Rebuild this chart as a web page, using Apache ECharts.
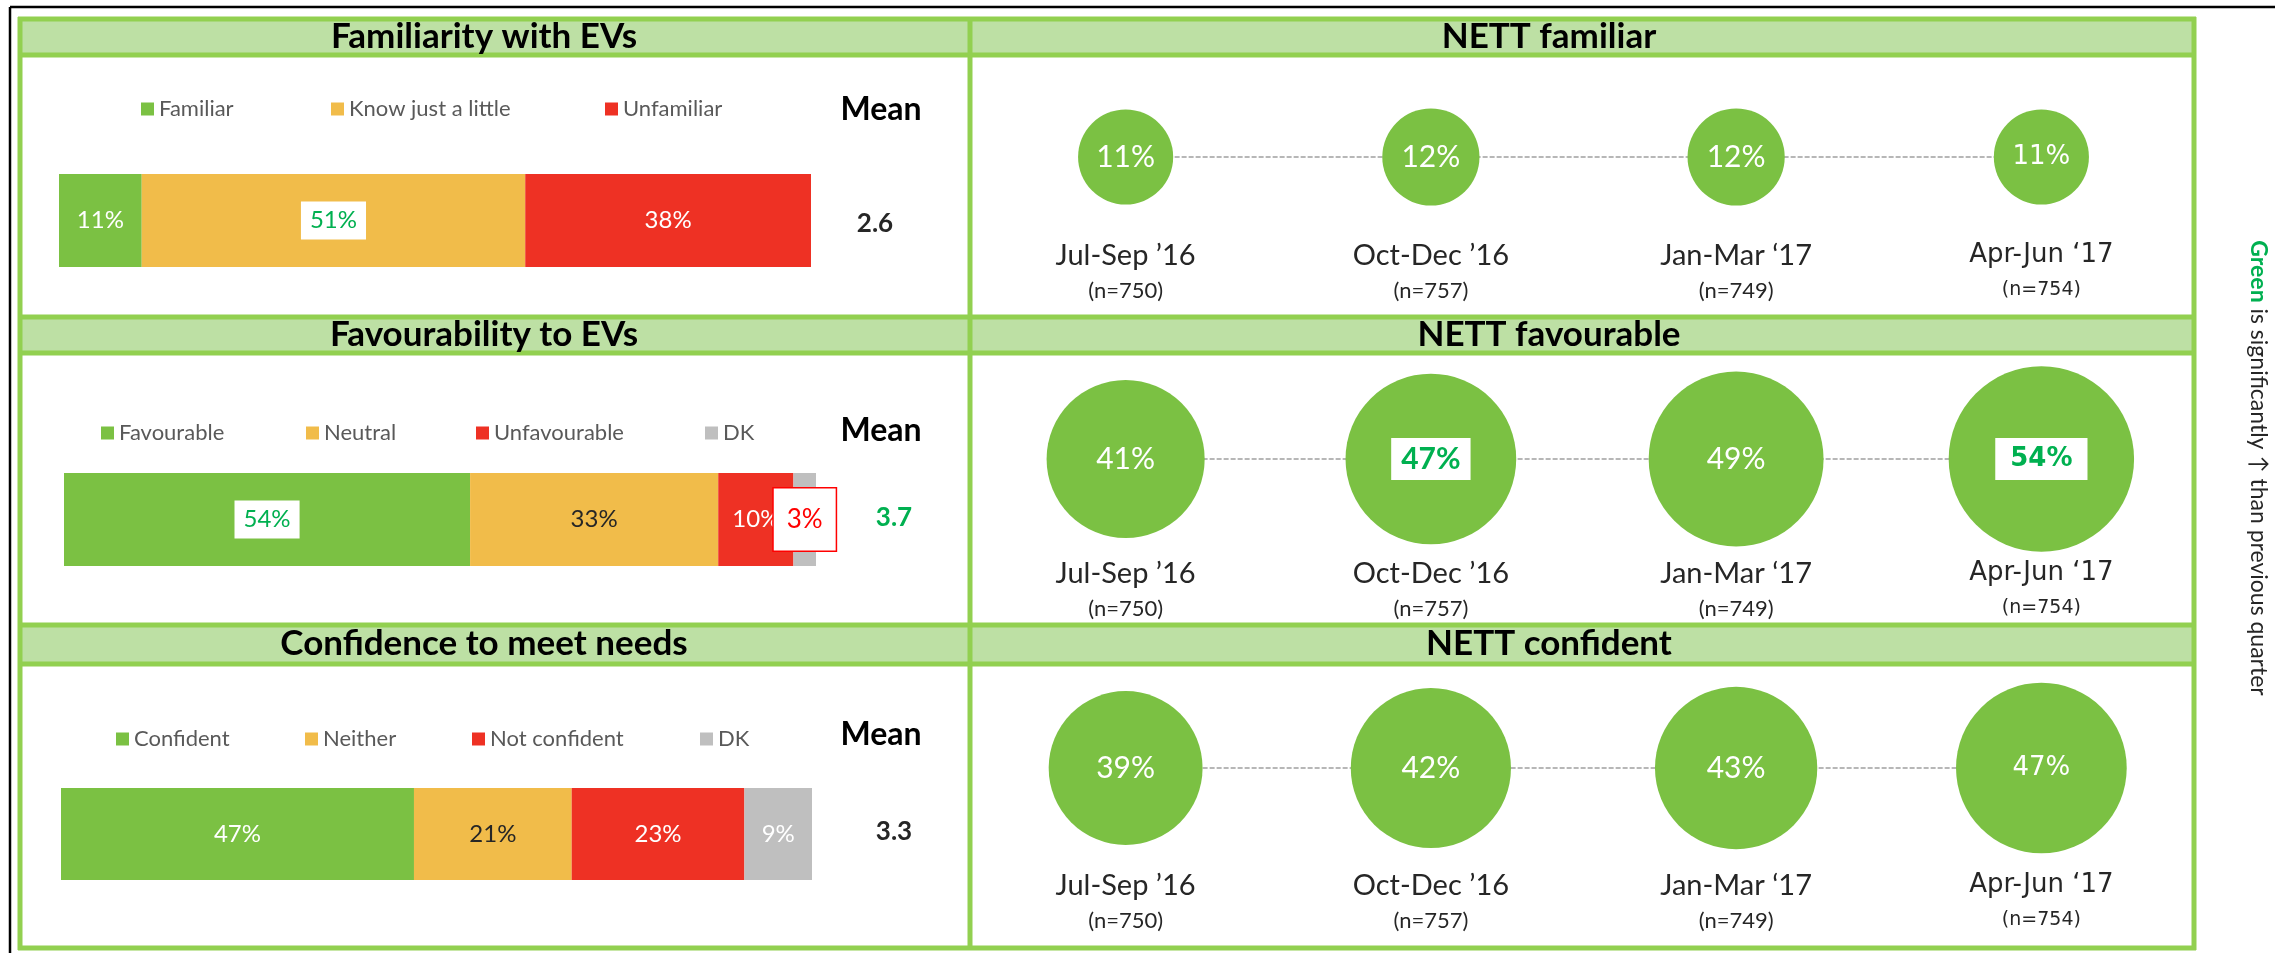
<!DOCTYPE html>
<html>
<head>
<meta charset="utf-8">
<title>EV familiarity, favourability and confidence</title>
<script src="https://cdn.jsdelivr.net/npm/echarts@6/dist/echarts.min.js"></script>
<style>
  html, body { margin: 0; padding: 0; background: #fff; }
  #chart { width: 2275px; height: 953px; }
</style>
</head>
<body>
<div id="chart"></div>
<script>
// ---- data ----
const familiarityCats = ['Familiar', 'Know just a little', 'Unfamiliar'];
const familiarityValues = [11, 51, 38];
const familiaritySig = [0, 1, 0];          // 1 = sig. higher, -1 = sig. lower

const favourabilityCats = ['Favourable', 'Neutral', 'Unfavourable', 'DK'];
const favourabilityValues = [54, 33, 10, 3];
const favourabilitySig = [1, 0, 0, -1];

const confidenceCats = ['Confident', 'Neither', 'Not confident', 'DK'];
const confidenceValues = [47, 21, 23, 9];
const confidenceSig = [0, 0, 0, 0];

const meanValues = [2.6, 3.7, 3.3];
const meanSig = [0, 1, 0];

const quarters = ['Jul-Sep \u201916', 'Oct-Dec \u201916', 'Jan-Mar \u201817', 'Apr-Jun \u201817'];
const sampleSizes = [750, 757, 749, 754];

const nettFamiliar = [11, 12, 12, 11];
const nettFamiliarSig = [0, 0, 0, 0];
const nettFavourable = [41, 47, 49, 54];
const nettFavourableSig = [0, 1, 0, 1];
const nettConfident = [39, 42, 43, 47];
const nettConfidentSig = [0, 0, 0, 0];

const leftTitles = ['Familiarity with EVs', 'Favourability to EVs', 'Confidence to meet needs'];
const rightTitles = ['NETT familiar', 'NETT favourable', 'NETT confident'];

// ---- style ----
const FONT = 'Lato, sans-serif';
const WIDE = "'DejaVu Sans', Verdana, sans-serif";
const GREEN = '#7bc143';
const YELLOW = '#f1bc4a';
const RED = '#ee3124';
const GREY = '#bfbfbf';
const SIG_GREEN = '#00b050';
const SIG_RED = '#ff0000';
const BORDER = '#92d050';
const BAND = '#bde0a4';
const segColors = [GREEN, YELLOW, RED, GREY];
const segText = ['#fff', '#262626', '#fff', '#fff'];

const barRows = [
  {cats: familiarityCats, values: familiarityValues, sig: familiaritySig,
   grid: {left: 59, top: 174, width: 752, height: 93}, legendY: 109, legendX: [141, 331, 605]},
  {cats: favourabilityCats, values: favourabilityValues, sig: favourabilitySig,
   grid: {left: 64, top: 473, width: 752, height: 93}, legendY: 433, legendX: [101, 306, 476, 705]},
  {cats: confidenceCats, values: confidenceValues, sig: confidenceSig,
   grid: {left: 61, top: 788, width: 751, height: 92}, legendY: 739, legendX: [116, 305, 472, 700]}
];

const bubbleRows = [
  {values: nettFamiliar, sig: nettFamiliarSig, cy: 157, labelTop: 238},
  {values: nettFavourable, sig: nettFavourableSig, cy: 459, labelTop: 556},
  {values: nettConfident, sig: nettConfidentSig, cy: 768, labelTop: 868}
];

const meanPos = [{x: 875, y: 224, hy: 110}, {x: 894, y: 518, hy: 431}, {x: 894, y: 832, hy: 735}];

const grids = [], xAxes = [], yAxes = [], series = [], legends = [], graphics = [];

// stacked 100% bars on the left
barRows.forEach((row, r) => {
  grids.push(row.grid);
  xAxes.push({type: 'value', gridIndex: r, min: 0, max: 100, show: false});
  yAxes.push({type: 'category', gridIndex: r, data: [''], show: false});
  row.cats.forEach((name, j) => {
    const s = row.sig[j];
    const label = {
      show: true, position: 'inside', formatter: '{c}%',
      fontFamily: FONT, fontSize: 24, color: segText[j]
    };
    if (s === 1) Object.assign(label, {backgroundColor: '#fff', color: SIG_GREEN, padding: [7, 9]});
    if (s === -1) Object.assign(label, {backgroundColor: '#fff', color: SIG_RED, borderColor: SIG_RED,
      borderWidth: 1.5, padding: [18, 13], fontSize: 26});
    series.push({
      type: 'bar', name: name, stack: 'bar' + r, xAxisIndex: r, yAxisIndex: r,
      data: [row.values[j]], barWidth: '100%', itemStyle: {color: segColors[j]},
      label: label, labelLayout: {hideOverlap: false}, z: s === -1 ? 5 : 2
    });
    legends.push({
      data: [name], left: row.legendX[j], top: row.legendY - 11, padding: 0,
      itemWidth: 13, itemHeight: 13, icon: 'rect', selectedMode: false,
      textStyle: {fontFamily: FONT, fontSize: 22, color: '#595959'}
    });
  });
});

// bubble timelines on the right
bubbleRows.forEach((row, k) => {
  const gi = barRows.length + k;
  grids.push({left: 973, width: 1221, top: row.cy - 60, height: 120});
  xAxes.push({
    type: 'category', gridIndex: gi, data: quarters, boundaryGap: true,
    axisLine: {show: false}, axisTick: {show: false},
    axisLabel: {
      interval: 0, margin: row.labelTop - (row.cy + 60),
      formatter: (v, i) => i === quarters.length - 1
        ? '{qw|' + v + '}\n{nw|(n=' + sampleSizes[i] + ')}'
        : '{q|' + v + '}\n{n|(n=' + sampleSizes[i] + ')}',
      rich: {
        q: {fontFamily: FONT, fontSize: 29, color: '#262626', lineHeight: 35},
        n: {fontFamily: FONT, fontSize: 22, color: '#262626', lineHeight: 35},
        qw: {fontFamily: WIDE, fontSize: 26, color: '#262626', lineHeight: 35},
        nw: {fontFamily: WIDE, fontSize: 19, color: '#262626', lineHeight: 35}
      }
    }
  });
  yAxes.push({type: 'value', gridIndex: gi, min: -1, max: 1, show: false});
  series.push({
    type: 'line', xAxisIndex: gi, yAxisIndex: gi, symbol: 'none', z: 1,
    data: quarters.map(q => [q, 0]),
    lineStyle: {color: '#a0a0a0', width: 1.5, type: [5, 2]}
  });
  series.push({
    type: 'scatter', xAxisIndex: gi, yAxisIndex: gi, z: 3,
    symbolSize: v => 2 * (36 + 1.05 * v[2]),
    itemStyle: {color: GREEN, opacity: 1},
    data: row.values.map((v, i) => {
      const last = i === quarters.length - 1;
      const label = {
        show: true, position: 'inside', formatter: p => p.value[2] + '%',
        fontFamily: last ? WIDE : FONT, fontSize: last ? 26 : 30, color: '#fff'
      };
      if (row.sig[i] === 1) Object.assign(label, {backgroundColor: '#fff', color: SIG_GREEN,
        fontWeight: 'bold', padding: last ? [8, 15] : [6, 10]});
      return {value: [quarters[i], 0, v], label: label};
    })
  });
});

// panel frames
const xs = [20, 970, 2194];
const hLines = [19, 55, 317, 353, 625, 664, 948];
[[19, 55], [317, 353], [625, 664]].forEach(b => graphics.push({
  type: 'rect', z: 0, shape: {x: xs[0], y: b[0], width: xs[2] - xs[0], height: b[1] - b[0]},
  style: {fill: BAND}
}));
hLines.forEach(y => graphics.push({
  type: 'line', z: 1, shape: {x1: xs[0] - 2, y1: y, x2: xs[2] + 2, y2: y},
  style: {stroke: BORDER, lineWidth: 5}
}));
xs.forEach(x => graphics.push({
  type: 'line', z: 1, shape: {x1: x, y1: hLines[0] - 2, x2: x, y2: hLines[6] + 2},
  style: {stroke: BORDER, lineWidth: 5}
}));
graphics.push({type: 'line', z: 1, shape: {x1: 10, y1: 7, x2: 2275, y2: 7}, style: {stroke: '#000', lineWidth: 2.5}});
graphics.push({type: 'line', z: 1, shape: {x1: 10, y1: 7, x2: 10, y2: 953}, style: {stroke: '#000', lineWidth: 2.5}});

const titleY = [37, 335, 644];
const txt = (x, y, text, size, weight, color, family) => ({
  type: 'text', z: 10, x: x, y: y,
  style: {text: text, fontFamily: family || FONT, fontSize: size, fontWeight: weight, fill: color,
    align: 'center', verticalAlign: 'middle', textAlign: 'center', textVerticalAlign: 'middle'}
});
leftTitles.forEach((t, i) => graphics.push(txt(484, titleY[i], t, 35, 'bold', '#000')));
rightTitles.forEach((t, i) => graphics.push(txt(1549, titleY[i], t, 35, 'bold', '#000')));
meanValues.forEach((m, i) => {
  graphics.push(txt(881, meanPos[i].hy, 'Mean', 32, 'bold', '#000'));
  graphics.push(txt(meanPos[i].x, meanPos[i].y, m.toFixed(1), 26, 'bold', meanSig[i] ? SIG_GREEN : '#262626'));
});

// side note
graphics.push({
  type: 'text', z: 10, x: 2258, y: 468, rotation: -Math.PI / 2,
  style: {
    text: '{g|Green} is significantly \u2191 than previous quarter',
    fontFamily: FONT, fontSize: 23, fill: '#262626',
    align: 'center', verticalAlign: 'middle', textAlign: 'center', textVerticalAlign: 'middle',
    rich: {g: {fill: SIG_GREEN, fontFamily: FONT, fontSize: 23, fontWeight: 'bold'}}
  }
});

const chart = echarts.init(document.getElementById('chart'));
chart.setOption({
  animation: false,
  backgroundColor: '#fff',
  grid: grids,
  xAxis: xAxes,
  yAxis: yAxes,
  legend: legends,
  series: series,
  graphic: {elements: graphics}
});
</script>
</body>
</html>
